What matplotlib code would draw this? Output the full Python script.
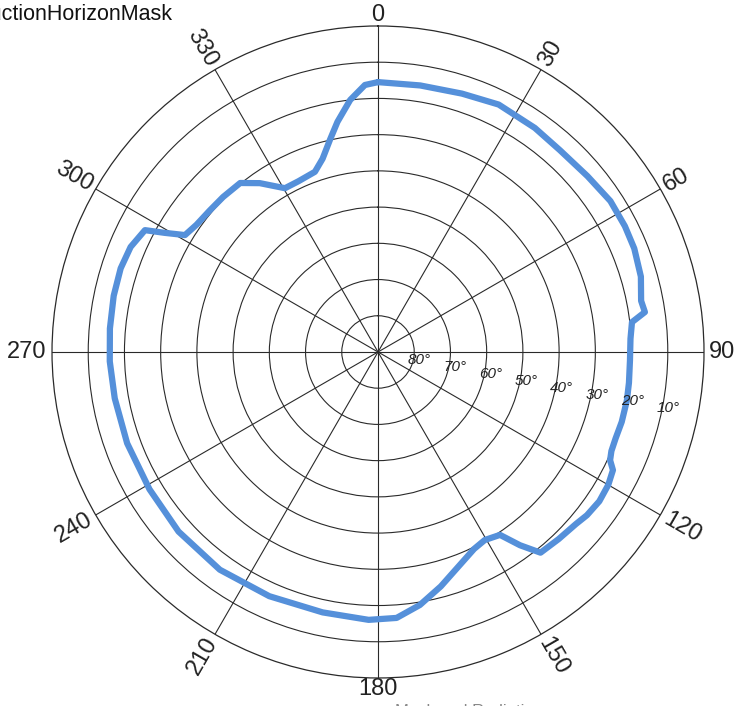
import numpy as np
import matplotlib
matplotlib.use("Agg")
from matplotlib import pyplot as plt

plt.rcParams['font.family'] = ['Liberation Sans', 'DejaVu Sans']

# horizon mask: azimuth (deg) vs elevation (deg)
azimuth = [0, 9, 18, 26, 35, 42, 50, 57, 63, 68, 74, 79, 81.5, 83.3, 87, 92, 97, 101, 106, 110,
           113, 115, 116.7, 120, 124, 128, 131, 136, 141, 143.7, 146.3, 150.4, 154, 159, 165,
           170.6, 176, 182, 192, 204, 216, 228, 239, 250, 260, 268, 275, 282, 288, 293,
           297.6, 299.2, 301.2, 305, 310, 315, 320.8, 325, 330.4, 335, 340.7, 344, 347.2,
           350, 353.7, 357.2, 360]
elevation = [15.5, 15.5, 15.0, 14.0, 14.5, 15.0, 14.5, 13.5, 13.5, 13.7, 14.5, 16.0, 15.5, 19.4, 20.2, 20.4, 20.2, 20.0, 20.0, 20.2,
             20.0, 19.3, 17.4, 16.6, 16.3, 16.8, 17.6, 18.2, 18.7, 23.8, 29.3, 30.3, 29.5, 27.0, 23.0,
             19.2, 16.4, 16.0, 16.5, 16.2, 15.7, 15.9, 16.4, 16.3, 16.2, 15.9, 15.7, 15.4, 15.3, 15.8,
             17.4, 22.6, 27.7, 28.8, 29.3, 29.5, 29.8, 33.1, 38.0, 38.0, 37.3, 34.5, 30.0,
             25.5, 20.0, 16.2, 15.5]

angle_ticks = [0, 30, 60, 90, 120, 150, 180, 210, 240, 270, 300, 330]
elev_rings = [80, 70, 60, 50, 40, 30, 20, 10]

fig = plt.figure(figsize=(7.53, 7.06), dpi=100)
ax = fig.add_axes([0.069, 0.0397, 0.866, 0.9235], projection='polar')
ax.set_theta_zero_location('N')
ax.set_theta_direction(-1)
ax.set_ylim(0, 90)

theta = np.radians(azimuth)
zen = 90 - np.array(elevation)
ax.plot(theta, zen, color='#5590da', lw=4.5, solid_capstyle='round', solid_joinstyle='round', zorder=5)

# grid
ax.set_xticks(np.radians(angle_ticks))
ax.set_xticklabels([])
ax.set_yticks([90 - e for e in elev_rings])
ax.set_yticklabels([])
ax.grid(True, color='#2a2a2a', lw=0.8)
ax.spines['polar'].set_color('#2a2a2a')
ax.spines['polar'].set_linewidth(0.9)

# elevation labels
for e in elev_rings:
    ax.text(np.radians(101), 90 - e + 1.6, f"{e}°", fontsize=11, style='italic',
            ha='center', va='center', color='#222222', zorder=6)

# azimuth labels
pxu = 326 / 90.0
for a in angle_ticks:
    lab = str(a)
    if a in (0, 180):
        rot = 0
        pad = 11
    elif a in (90, 270):
        rot = 0
        pad = len(lab) * 7 + 4
    else:
        rot = 90 - a
        if rot < -90:
            rot += 180
        if rot < -90:
            rot += 180
        pad = len(lab) * 7 + 4
    ax.text(np.radians(a), 90 + pad / pxu, lab, fontsize=17, rotation=rot,
            rotation_mode='anchor', ha='center', va='center', color='#222222', clip_on=False)

fig.text(172 / 753, 1 - 15 / 706, "ObstructionHorizonMask", fontsize=15.5, ha='right', va='center', color='#111111')
fig.text(395 / 753, -0.008, "Mask and Radiation", fontsize=12, ha='left', va='center', color='#888888')

fig.savefig('out.png', dpi=100)
